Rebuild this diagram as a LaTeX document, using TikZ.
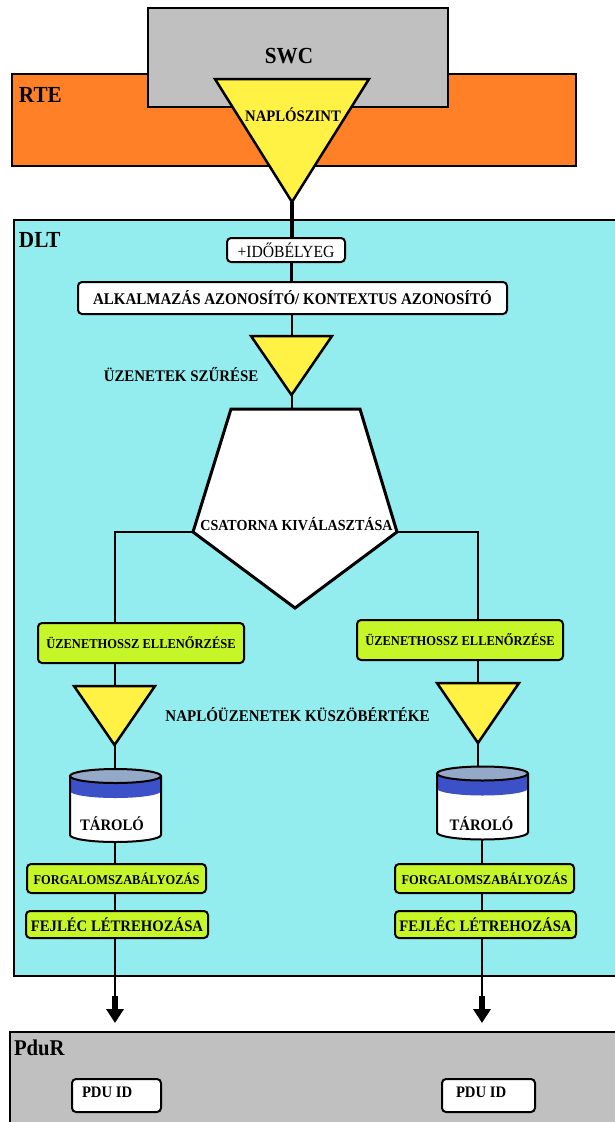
\documentclass[tikz,border=0pt]{standalone}
\usepackage{fontspec}
\setmainfont{Liberation Serif}[FakeStretch=0.92]
\usetikzlibrary{calc,arrows.meta}
\definecolor{swcgrey}{RGB}{192,192,192}
\definecolor{rteorange}{RGB}{255,128,38}
\definecolor{trlyellow}{RGB}{255,242,68}
\definecolor{dltcyan}{RGB}{147,237,238}
\definecolor{stepgreen}{RGB}{198,245,40}
\definecolor{captop}{RGB}{148,168,200}
\definecolor{capband}{RGB}{60,80,200}
\newcommand\txtsz[1]{\fontsize{#1}{#1}\selectfont}
% storage cylinder drawn inside the extent of a frame node
\newcommand\drawstore[1]{%
  \fill[white] ($(#1.north west)+(0,7)$) -- ($(#1.south west)+(0,-7)$)
    arc[start angle=180,end angle=0,x radius=45.5,y radius=7] -- ($(#1.north east)+(0,7)$) -- cycle;
  \fill[capband] ($(#1.north west)+(0,7)$) -- ($(#1.north west)+(0,22)$)
    arc[start angle=180,end angle=0,x radius=45.5,y radius=7] -- ($(#1.north east)+(0,7)$) -- cycle;
  \draw[line width=2pt] ($(#1.north west)+(0,7)$) -- ($(#1.south west)+(0,-7)$)
    arc[start angle=180,end angle=0,x radius=45.5,y radius=7] -- ($(#1.north east)+(0,7)$);
  \filldraw[fill=captop,line width=2pt] ($(#1.north)+(0,7)$) ellipse[x radius=45.5,y radius=7];
}
\newcommand\drawtri[1]{%
  \filldraw[tri] (#1.north west) -- (#1.north east) -- (#1.south) -- cycle;
}
\begin{document}
\begin{tikzpicture}[x=1pt,y=-1pt,
  layerbox/.style={draw=black,line width=2pt,inner sep=0pt,outer sep=0pt},
  frame/.style={draw=none,inner sep=0pt,outer sep=0pt},
  tri/.style={fill=trlyellow,draw=black,line width=2.5pt,line join=miter},
  rbox/.style={draw=black,line width=2pt,rounded corners=4pt,inner sep=0pt,outer sep=0pt,align=center},
  whitebox/.style={rbox,fill=white},
  greenbox/.style={rbox,fill=stepgreen},
  lbl/.style={inner sep=0pt,outer sep=0pt},
  link/.style={line width=2pt},
  bigarrow/.style={line width=6.5pt,-{Triangle[width=17pt,length=14pt]}}
]
\useasboundingbox (0,0) rectangle (614,1122);

% RTE and SWC layers with the log level triangle on top
\node[layerbox,fill=rteorange,minimum width=564pt,minimum height=92pt] (rte) at (294,120) {};
\node[layerbox,fill=swcgrey,minimum width=300pt,minimum height=99pt] (swc) at (298,57.5) {};
\node[lbl,anchor=base west,font=\bfseries\txtsz{23}] (rtel) at (19,102) {RTE};
\node[lbl,anchor=base,font=\bfseries\txtsz{23}] (swcl) at (289,63) {SWC};

% DLT and PduR layers, running past the right edge
\node[layerbox,fill=dltcyan,minimum width=606pt,minimum height=756pt] (dlt) at (317,598) {};
\node[layerbox,fill=swcgrey,minimum width=612pt,minimum height=98pt] (pdur) at (316,1081) {};
\node[lbl,anchor=base west,font=\bfseries\txtsz{23}] (dltl) at (19,247) {DLT};
\node[lbl,anchor=base west,font=\bfseries\txtsz{22.5}] (pdurl) at (14,1055) {PduR};

% frames of the drawn shapes
\node[frame,minimum width=154pt,minimum height=123pt] (t1) at (292,140.5) {};
\node[frame,minimum width=81pt,minimum height=59pt] (t2) at (291.5,365.5) {};
\node[frame,minimum width=81pt,minimum height=59pt] (t3) at (114.5,715.5) {};
\node[frame,minimum width=82pt,minimum height=60pt] (t4) at (478,713) {};
\node[frame,minimum width=204pt,minimum height=199pt] (pent) at (295,508.5) {};
\node[frame,minimum width=91pt,minimum height=73pt] (st1) at (115.5,805.5) {};
\node[frame,minimum width=91pt,minimum height=73pt] (st2) at (482.5,803) {};
\coordinate (pentL) at ($(pent.west)+(0,23.5)$);
\coordinate (pentR) at ($(pent.east)+(0,23.5)$);

% processing boxes
\node[whitebox,minimum width=118pt,minimum height=24pt,font=\txtsz{17}] (ido) at (286,250) {+IDŐBÉLYEG};
\node[whitebox,minimum width=429pt,minimum height=32pt,font=\bfseries\txtsz{16.3}] (alk) at (292.5,298)
  {ALKALMAZÁS AZONOSÍTÓ/ KONTEXTUS AZONOSÍTÓ};
\node[greenbox,minimum width=206pt,minimum height=40pt,font=\bfseries\txtsz{13.6}] (uh1) at (141,643) {ÜZENETHOSSZ ELLENŐRZÉSE};
\node[greenbox,minimum width=206pt,minimum height=40pt,font=\bfseries\txtsz{13.6}] (uh2) at (460,640) {ÜZENETHOSSZ ELLENŐRZÉSE};
\node[greenbox,minimum width=179pt,minimum height=29pt,font=\bfseries\txtsz{13.5}] (fo1) at (116.5,878.5) {FORGALOMSZABÁLYOZÁS};
\node[greenbox,minimum width=179pt,minimum height=29pt,font=\bfseries\txtsz{13.5}] (fo2) at (484.5,878.5) {FORGALOMSZABÁLYOZÁS};
\node[greenbox,minimum width=182pt,minimum height=27pt,font=\bfseries\txtsz{16}] (fe1) at (117,924.5) {FEJLÉC LÉTREHOZÁSA};
\node[greenbox,minimum width=181pt,minimum height=27pt,font=\bfseries\txtsz{16}] (fe2) at (485.5,924.5) {FEJLÉC LÉTREHOZÁSA};
\node[whitebox,minimum width=89pt,minimum height=33pt] (pdu1) at (116.5,1095.5) {};
\node[whitebox,minimum width=93pt,minimum height=33pt] (pdu2) at (488.5,1095.5) {};

% column guides
\coordinate (colL) at (115,0);
\coordinate (colR) at (478,0);
\coordinate (colR2) at (482,0);
\coordinate (a1) at (115,996);
\coordinate (a1tip) at (115,1023);
\coordinate (a2) at (482,996);
\coordinate (a2tip) at (482,1023);

% connectors
\draw[line width=4pt] (t1.south) -- (t1.south |- ido.north);
\draw[line width=2.5pt] (ido.south -| t2.north) -- (alk.north -| t2.north);
\draw[link] (alk.south -| t2.north) -- (t2.north);
\draw[link] (t2.south) -- (t2.south |- pent.north);
\draw[link] (pentL) -| (uh1.north -| colL);
\draw[link] (pentR) -| (uh2.north -| colR);
\draw[link] (uh1.south -| colL) -- (t3.north -| colL);
\draw[link] (uh2.south -| colR) -- (t4.north -| colR);
\draw[link] (t3.south) -- (st1.north -| t3.south);
\draw[link] (t4.south) -- (st2.north -| t4.south);
\draw[link] (st1.south -| colL) -- (fo1.north -| colL);
\draw[link] (st2.south -| colR2) -- (fo2.north -| colR2);
\draw[link] (fo1.south -| colL) -- (fe1.north -| colL);
\draw[link] (fo2.south -| colR2) -- (fe2.north -| colR2);
\draw[link] (fe1.south -| colL) -- (a1);
\draw[link] (fe2.south -| colR2) -- (a2);
\draw[bigarrow] (a1) -- (a1tip);
\draw[bigarrow] (a2) -- (a2tip);

% shapes
\drawtri{t1}
\drawtri{t2}
\drawtri{t3}
\drawtri{t4}
\filldraw[fill=white,draw=black,line width=3pt,line join=miter]
  ($(pent.north west)+(38,0)$) -- ($(pent.north east)+(-37,0)$) -- (pentR) -- (pent.south) -- (pentL) -- cycle;
\drawstore{st1}
\drawstore{st2}

% labels
\node[lbl,anchor=base,font=\bfseries\txtsz{16}] (naplo) at (293,121) {NAPLÓSZINT};
\node[lbl,anchor=base,font=\bfseries\txtsz{16.2}] (szures) at (181,381) {ÜZENETEK SZŰRÉSE};
\node[lbl,anchor=base,font=\bfseries\txtsz{15.3}] (csat) at (296.5,530) {CSATORNA KIVÁLASZTÁSA};
\node[lbl,anchor=base,font=\bfseries\txtsz{16.3}] (kuszob) at (297.5,721) {NAPLÓÜZENETEK KÜSZÖBÉRTÉKE};
\node[lbl,anchor=base,font=\bfseries\txtsz{16}] (tar1) at (112,830) {TÁROLÓ};
\node[lbl,anchor=base,font=\bfseries\txtsz{16}] (tar2) at (481.5,830) {TÁROLÓ};
\node[lbl,anchor=base west,font=\bfseries\txtsz{16}] (pdut1) at (82,1097) {PDU ID};
\node[lbl,anchor=base west,font=\bfseries\txtsz{16}] (pdut2) at (456,1097) {PDU ID};
\end{tikzpicture}
\end{document}
